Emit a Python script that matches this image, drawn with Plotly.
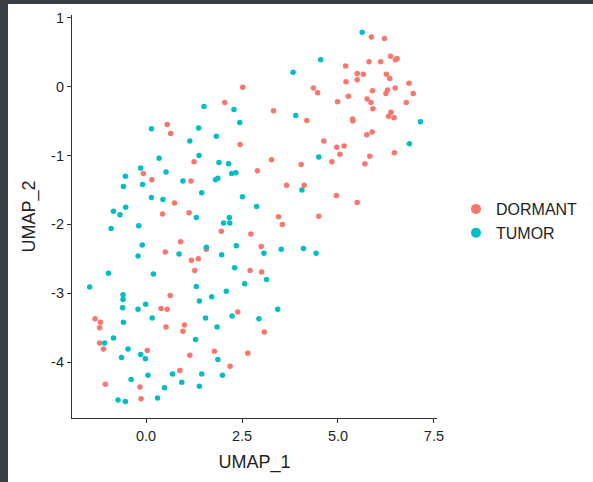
import plotly.graph_objects as go

# DORMANT cells (UMAP_1, UMAP_2)
dormant_x = [2.52, 2.05, 0.55, 0.64, 2.45, 1.25, -0.07, 0.15, 1.17, 2.90, 0.74, 0.43, 1.12, 1.96, 2.73, 0.90, 1.57,
             0.50, 1.18, 1.36, 2.71, 1.27, 0.63, 0.39, 0.55, 2.39, -1.33, -1.19, -1.21, 0.52, 1.00, 0.96, -1.21,
             -1.11, 0.03, 1.14, 1.78, 2.65, 2.19, 0.88, -1.06, -0.16, -0.13,
             5.87, 6.21, 6.37, 6.54, 6.50, 5.81, 6.11, 5.20, 5.50, 5.66, 5.50, 5.21, 6.26, 6.35, 6.85, 4.36, 4.47,
             5.90, 6.29, 6.25, 6.49, 6.96, 5.27, 5.76, 5.86, 4.99, 6.78, 5.91, 3.32, 4.19, 5.38, 5.39, 6.38, 6.32,
             6.46, 5.75, 5.89, 4.63, 4.97, 5.16, 5.05, 5.83, 6.47, 3.27, 4.84,
             5.70, 4.04, 3.66, 4.12, 4.96, 5.50, 3.45, 4.50, 3.55, 3.00, 3.01, 3.08]
dormant_y = [-0.01, -0.23, -0.55, -0.68, -0.84, -1.09, -1.26, -1.35, -1.37, -1.22, -1.69, -1.85, -1.83, -2.10, -2.14, -2.25, -2.36,
             -2.40, -2.52, -2.50, -2.67, -2.67, -3.03, -3.22, -3.23, -3.27, -3.37, -3.42, -3.50, -3.49, -3.46, -3.55, -3.72,
             -3.81, -3.83, -3.90, -3.84, -3.87, -4.06, -4.12, -4.32, -4.36, -4.53,
             0.72, 0.70, 0.44, 0.41, 0.39, 0.36, 0.36, 0.30, 0.19, 0.18, 0.10, 0.07, 0.18, 0.12, 0.05, -0.02, -0.09,
             -0.06, -0.05, -0.10, -0.02, -0.10, -0.14, -0.18, -0.23, -0.22, -0.23, -0.32, -0.35, -0.49, -0.47, -0.50, -0.37, -0.43,
             -0.45, -0.70, -0.66, -0.79, -0.88, -0.86, -0.98, -1.01, -0.96, -1.06, -1.09,
             -1.12, -1.13, -1.43, -1.43, -1.58, -1.68, -1.89, -1.88, -2.00, -2.32, -2.69, -3.56]

# TUMOR cells (UMAP_1, UMAP_2)
tumor_x = [1.51, 2.29, 2.44, 0.14, 1.37, 1.14, 1.83, 1.38, 0.34, 1.90, 2.15, -0.14, 0.52, -0.54, 0.96, 1.81, 1.87,
           2.23, 2.34, -0.59, -0.09, 1.45, 0.14, 0.44, 2.51, 2.88, -0.53, -0.85, -0.68, 1.31, 2.17, 2.02, 2.18,
           -0.91, -0.19, -0.10, 1.57, 2.35,
           -0.21, 0.86, 1.97, 2.31, -0.98, 0.19, -1.47, -0.60, -0.60, 1.31, 2.57, 2.09, 1.39, 1.71, -0.01, -0.61,
           -0.21, 2.24, 0.16, 1.55, -0.59, 1.85, 2.94, -0.85, 1.29, -1.08, -0.47, -0.64, -0.14, -0.02, 1.87, 0.69,
           0.05, 1.45, 1.99, -0.39, 0.93, 0.48, 1.39, 0.30, -0.73, -0.54,
           5.63, 4.55, 3.83, 3.90, 7.15, 6.86, 4.50,
           4.06, 3.07, 3.52, 4.10, 4.43, 3.14, 3.43]
tumor_y = [-0.29, -0.33, -0.52, -0.61, -0.60, -0.79, -0.72, -1.00, -1.04, -1.10, -1.12, -1.18, -1.24, -1.30, -1.37, -1.35, -1.33,
           -1.26, -1.25, -1.45, -1.42, -1.54, -1.61, -1.64, -1.60, -1.74, -1.75, -1.81, -1.86, -1.90, -1.90, -1.98, -1.98,
           -2.06, -2.02, -2.30, -2.33, -2.31,
           -2.46, -2.43, -2.44, -2.63, -2.71, -2.72, -2.91, -3.02, -3.09, -2.90, -2.86, -2.97, -3.11, -3.05, -3.16, -3.21,
           -3.23, -3.33, -3.36, -3.36, -3.42, -3.49, -3.37, -3.65, -3.67, -3.72, -3.81, -3.93, -3.89, -3.95, -3.96, -4.17,
           -4.19, -4.17, -4.19, -4.25, -4.29, -4.37, -4.35, -4.52, -4.55, -4.57,
           0.79, 0.39, 0.21, -0.42, -0.51, -0.83, -1.02,
           -1.50, -2.42, -2.36, -2.35, -2.42, -2.80, -3.23]

groups = ["DORMANT", "TUMOR"]
colors = {"DORMANT": "#F8766D", "TUMOR": "#00BFC4"}
x_ticks = [0.0, 2.5, 5.0, 7.5]
x_tick_text = ["0.0", "2.5", "5.0", "7.5"]
y_ticks = [-4, -3, -2, -1, 0, 1]
y_tick_text = ["-4", "-3", "-2", "-1", "0", "1"]

FONT = "Liberation Sans, Arial, Helvetica, sans-serif"
TXT = "#1f1f1f"

fig = go.Figure()
data = {"DORMANT": (dormant_x, dormant_y), "TUMOR": (tumor_x, tumor_y)}
for g in groups:
    xs, ys = data[g]
    fig.add_trace(go.Scatter(x=xs, y=ys, mode="markers", name=g, showlegend=False,
                             marker=dict(color=colors[g], size=5.5, line=dict(width=0))))
for g in groups:
    fig.add_trace(go.Scatter(x=[None], y=[None], mode="markers", name=g, showlegend=True,
                             marker=dict(color=colors[g], size=10, line=dict(width=0))))

W, H = 593, 482
ml, mr, mt, mb = 72, 156, 15, 64
pw, ph = W - ml - mr, H - mt - mb

def px_x(p):
    return (p - ml) / pw

def px_y(p):
    return (H - mb - p) / ph

# white page over a dark frame (left and top strips)
fig.add_shape(type="rect", xref="paper", yref="paper", layer="below",
              x0=px_x(8), x1=px_x(W + 2), y0=px_y(H + 2), y1=px_y(4),
              fillcolor="white", line=dict(width=0))

axis_common = dict(showgrid=False, zeroline=False, showline=True, linecolor="#333333", linewidth=1.2,
                   ticks="outside", ticklen=4, tickwidth=1.1, tickcolor="#333333",
                   tickfont=dict(family=FONT, size=14.5, color=TXT))

fig.update_xaxes(range=[-1.93, 7.58], tickvals=x_ticks, ticktext=x_tick_text,
                 title=dict(text="UMAP_1", font=dict(family=FONT, size=18, color=TXT), standoff=12),
                 **axis_common)
fig.update_yaxes(range=[-4.81, 1.04], tickvals=y_ticks, ticktext=y_tick_text,
                 title=dict(text="UMAP_2", font=dict(family=FONT, size=18, color=TXT), standoff=10),
                 **axis_common)

fig.update_layout(
    width=W, height=H,
    margin=dict(l=ml, r=mr, t=mt, b=mb, autoexpand=False),
    paper_bgcolor="#3a3e45",
    plot_bgcolor="rgba(0,0,0,0)",
    font=dict(family=FONT, color=TXT),
    legend=dict(x=px_x(456), y=px_y(221), xanchor="left", yanchor="middle",
                bgcolor="rgba(0,0,0,0)", font=dict(family=FONT, size=16, color=TXT),
                itemsizing="trace", tracegroupgap=0),
    showlegend=True,
)

fig.write_html("out.html")
